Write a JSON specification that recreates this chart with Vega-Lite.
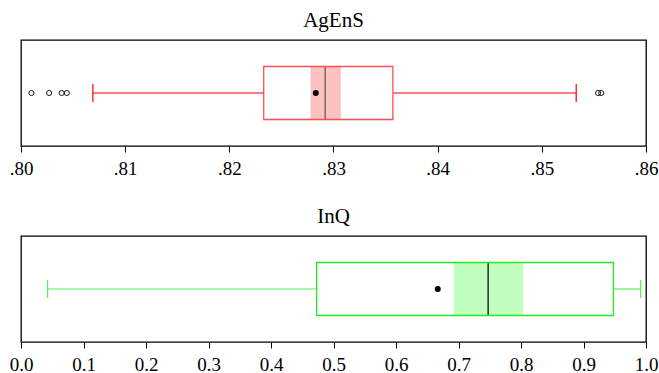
{
  "$schema": "https://vega.github.io/schema/vega-lite/v6.json",
  "padding": {"left": 8, "top": 9, "right": 5, "bottom": 0},
  "background": "white",
  "spacing": 26,
  "config": {
    "view": {"stroke": "black", "strokeWidth": 1.3},
    "font": "Liberation Serif",
    "title": {"font": "Liberation Serif", "fontSize": 21, "fontWeight": "normal", "color": "black", "offset": 9, "anchor": "middle"},
    "axisX": {"domain": false, "grid": false, "tickColor": "black", "tickSize": 6, "tickWidth": 1, "labelFont": "Liberation Serif", "labelFontSize": 19, "labelColor": "black", "labelPadding": 7, "labelFlush": false, "labelOverlap": false, "title": null}
  },
  "datasets": {
    "stats": [
      {"panel": "AgEnS", "q1": 0.8233, "q3": 0.8357, "med": 0.8292, "nlo": 0.8278, "nhi": 0.8307, "mean": 0.8283, "wlo": 0.8069, "whi": 0.8533},
      {"panel": "InQ", "q1": 0.473, "q3": 0.948, "med": 0.7474, "nlo": 0.6925, "nhi": 0.8035, "mean": 0.6668, "wlo": 0.0426, "whi": 0.9915}
    ],
    "outliers": [
      {"panel": "AgEnS", "value": 0.8010},
      {"panel": "AgEnS", "value": 0.8027},
      {"panel": "AgEnS", "value": 0.8039},
      {"panel": "AgEnS", "value": 0.8044},
      {"panel": "AgEnS", "value": 0.8554},
      {"panel": "AgEnS", "value": 0.8557}
    ]
  },
  "vconcat": [
    {
      "width": 625,
      "height": 106,
      "title": "AgEnS",
      "data": {"name": "stats"},
      "transform": [{"filter": "datum.panel == 'AgEnS'"}],
      "layer": [
        {
          "mark": {"type": "rule", "color": "#ff0000", "strokeWidth": 1.2},
          "encoding": {
            "x": {"field": "wlo", "type": "quantitative", "scale": {"domain": [0.8, 0.86], "nice": false, "zero": false},
                  "axis": {"values": [0.8, 0.81, 0.82, 0.83, 0.84, 0.85, 0.86], "labelExpr": "substring(format(datum.value, '.2f'), 1)"}},
            "x2": {"field": "q1"},
            "y": {"datum": 0.5, "type": "quantitative", "scale": {"domain": [0, 1], "nice": false}, "axis": null}
          }
        },
        {
          "mark": {"type": "rule", "color": "#ff0000", "strokeWidth": 1.2},
          "encoding": {"x": {"field": "q3", "type": "quantitative"}, "x2": {"field": "whi"}, "y": {"datum": 0.5, "type": "quantitative", "axis": null}}
        },
        {
          "mark": {"type": "tick", "orient": "vertical", "size": 18, "thickness": 1.2, "color": "#ff0000", "opacity": 1},
          "encoding": {"x": {"field": "wlo", "type": "quantitative"}, "y": {"datum": 0.5, "type": "quantitative", "axis": null}}
        },
        {
          "mark": {"type": "tick", "orient": "vertical", "size": 18, "thickness": 1.2, "color": "#ff0000", "opacity": 1},
          "encoding": {"x": {"field": "whi", "type": "quantitative"}, "y": {"datum": 0.5, "type": "quantitative", "axis": null}}
        },
        {
          "mark": {"type": "rect", "fill": "white", "stroke": null},
          "encoding": {"x": {"field": "q1", "type": "quantitative"}, "x2": {"field": "q3"}, "y": {"datum": 0.25, "type": "quantitative", "axis": null}, "y2": {"datum": 0.75}}
        },
        {
          "mark": {"type": "rect", "fill": "#ffc0c0", "stroke": null},
          "encoding": {"x": {"field": "nlo", "type": "quantitative"}, "x2": {"field": "nhi"}, "y": {"datum": 0.25, "type": "quantitative", "axis": null}, "y2": {"datum": 0.75}}
        },
        {
          "mark": {"type": "rule", "color": "#555555", "strokeWidth": 1.2},
          "encoding": {"x": {"field": "med", "type": "quantitative"}, "y": {"datum": 0.25, "type": "quantitative", "axis": null}, "y2": {"datum": 0.75}}
        },
        {
          "mark": {"type": "rect", "fill": null, "stroke": "#ff5050", "strokeWidth": 1.3},
          "encoding": {"x": {"field": "q1", "type": "quantitative"}, "x2": {"field": "q3"}, "y": {"datum": 0.25, "type": "quantitative", "axis": null}, "y2": {"datum": 0.75}}
        },
        {
          "mark": {"type": "point", "filled": true, "color": "black", "size": 36, "opacity": 1},
          "encoding": {"x": {"field": "mean", "type": "quantitative"}, "y": {"datum": 0.5, "type": "quantitative", "axis": null}}
        },
        {
          "data": {"name": "outliers"},
          "transform": [{"filter": "datum.panel == 'AgEnS'"}],
          "mark": {"type": "point", "filled": false, "color": "black", "size": 26, "strokeWidth": 0.9, "opacity": 1},
          "encoding": {"x": {"field": "value", "type": "quantitative"}, "y": {"datum": 0.5, "type": "quantitative", "axis": null}}
        }
      ]
    },
    {
      "width": 625,
      "height": 106,
      "title": "InQ",
      "data": {"name": "stats"},
      "transform": [{"filter": "datum.panel == 'InQ'"}],
      "layer": [
        {
          "mark": {"type": "rule", "color": "#55f055", "strokeWidth": 1.2},
          "encoding": {
            "x": {"field": "wlo", "type": "quantitative", "scale": {"domain": [0, 1], "nice": false, "zero": false},
                  "axis": {"values": [0, 0.1, 0.2, 0.3, 0.4, 0.5, 0.6, 0.7, 0.8, 0.9, 1], "format": ".1f"}},
            "x2": {"field": "q1"},
            "y": {"datum": 0.5, "type": "quantitative", "scale": {"domain": [0, 1], "nice": false}, "axis": null}
          }
        },
        {
          "mark": {"type": "rule", "color": "#55f055", "strokeWidth": 1.2},
          "encoding": {"x": {"field": "q3", "type": "quantitative"}, "x2": {"field": "whi"}, "y": {"datum": 0.5, "type": "quantitative", "axis": null}}
        },
        {
          "mark": {"type": "tick", "orient": "vertical", "size": 18, "thickness": 1.2, "color": "#55f055", "opacity": 1},
          "encoding": {"x": {"field": "wlo", "type": "quantitative"}, "y": {"datum": 0.5, "type": "quantitative", "axis": null}}
        },
        {
          "mark": {"type": "tick", "orient": "vertical", "size": 18, "thickness": 1.2, "color": "#55f055", "opacity": 1},
          "encoding": {"x": {"field": "whi", "type": "quantitative"}, "y": {"datum": 0.5, "type": "quantitative", "axis": null}}
        },
        {
          "mark": {"type": "rect", "fill": "white", "stroke": null},
          "encoding": {"x": {"field": "q1", "type": "quantitative"}, "x2": {"field": "q3"}, "y": {"datum": 0.25, "type": "quantitative", "axis": null}, "y2": {"datum": 0.75}}
        },
        {
          "mark": {"type": "rect", "fill": "#c0ffc0", "stroke": null},
          "encoding": {"x": {"field": "nlo", "type": "quantitative"}, "x2": {"field": "nhi"}, "y": {"datum": 0.25, "type": "quantitative", "axis": null}, "y2": {"datum": 0.75}}
        },
        {
          "mark": {"type": "rule", "color": "black", "strokeWidth": 1.2},
          "encoding": {"x": {"field": "med", "type": "quantitative"}, "y": {"datum": 0.25, "type": "quantitative", "axis": null}, "y2": {"datum": 0.75}}
        },
        {
          "mark": {"type": "rect", "fill": null, "stroke": "#22ee22", "strokeWidth": 1.3},
          "encoding": {"x": {"field": "q1", "type": "quantitative"}, "x2": {"field": "q3"}, "y": {"datum": 0.25, "type": "quantitative", "axis": null}, "y2": {"datum": 0.75}}
        },
        {
          "mark": {"type": "point", "filled": true, "color": "black", "size": 36, "opacity": 1},
          "encoding": {"x": {"field": "mean", "type": "quantitative"}, "y": {"datum": 0.5, "type": "quantitative", "axis": null}}
        }
      ]
    }
  ]
}
